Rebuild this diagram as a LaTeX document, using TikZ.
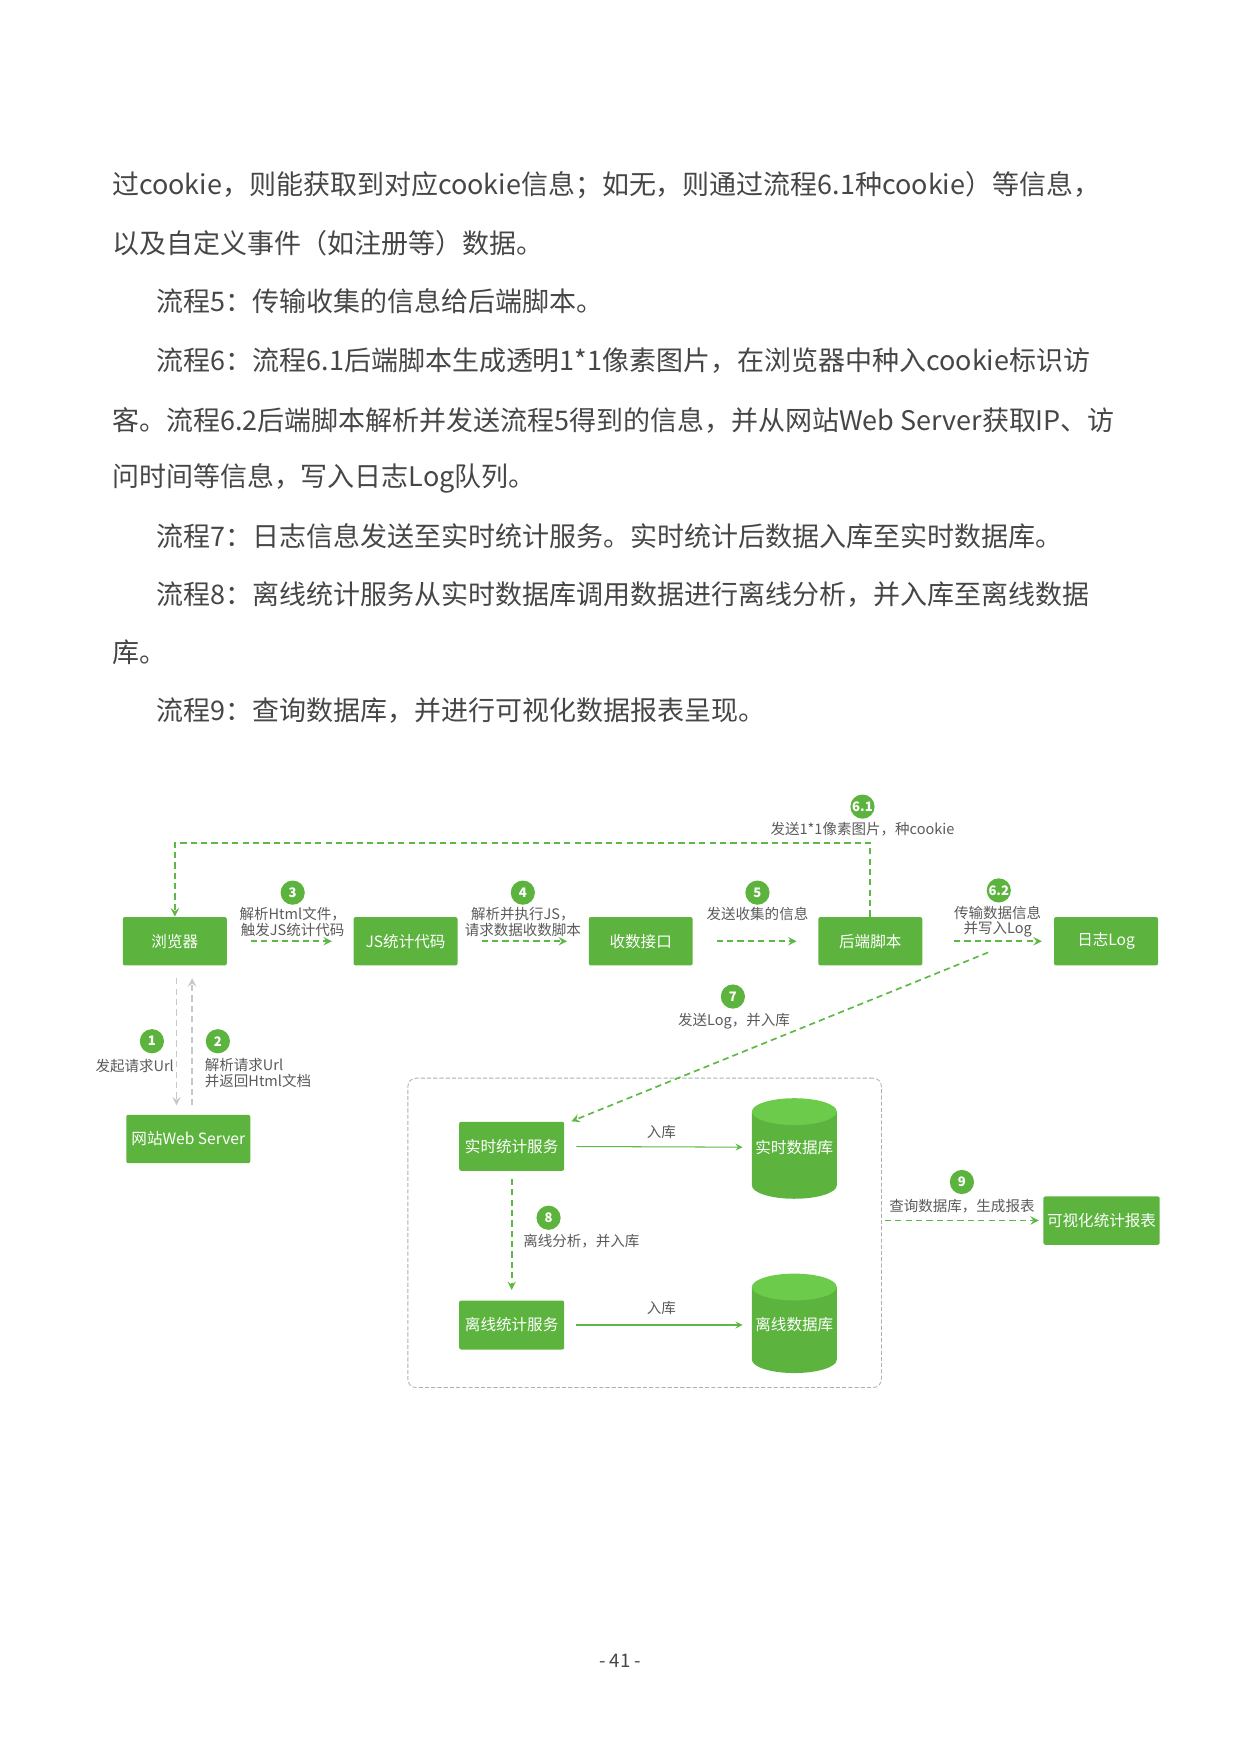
\documentclass[tikz,border=0pt]{standalone}
\usepackage{fontspec}
\setmainfont{Noto Sans CJK SC}
\usetikzlibrary{calc}
\definecolor{boxgreen}{RGB}{92,180,62}
\definecolor{topgreen}{RGB}{108,203,74}
\definecolor{linegreen}{RGB}{93,184,69}
\definecolor{labelgray}{RGB}{90,90,90}
\definecolor{bodygray}{RGB}{70,70,70}
\definecolor{reqgray}{RGB}{200,200,200}
\definecolor{framegray}{RGB}{175,175,175}

\begin{document}
\begin{tikzpicture}[x=0.018919cm, y=-0.018919cm, >=stealth,
  body/.style={anchor=west, inner sep=0, text=bodygray, font=\fontsize{13}{15}\selectfont},
  box/.style={fill=boxgreen, text=white, rounded corners=1pt, minimum width=1.76cm, minimum height=0.82cm, inner sep=0, font=\fontsize{7.5}{8}\selectfont},
  num/.style={circle, fill=boxgreen, text=white, inner sep=0, minimum size=0.41cm, font=\fontsize{6.3}{7}\selectfont\bfseries},
  lbl/.style={text=labelgray, inner sep=0, align=center, font=\fontsize{7}{7.6}\selectfont},
  flow/.style={->, draw=linegreen, dashed, dash pattern=on 3pt off 2pt, line width=0.8pt},
  gap/.style={shorten <=0.4cm, shorten >=0.36cm},
  req/.style={->, draw=reqgray, dashed, dash pattern=on 3pt off 2pt, line width=0.8pt},
  store/.style={->, draw=linegreen, line width=0.5pt}]
\useasboundingbox (0,0) rectangle (1110,1570);

% text above the figure
\node[body] (t1) at (100,166) {过cookie，则能获取到对应cookie信息；如无，则通过流程6.1种cookie）等信息，};
\node[body] (t2) at (100,218) {以及自定义事件（如注册等）数据。};
\node[body] (t3) at (140,270) {流程5：传输收集的信息给后端脚本。};
\node[body] (t4) at (140,323) {流程6：流程6.1后端脚本生成透明1*1像素图片，在浏览器中种入cookie标识访};
\node[body] (t5) at (100,376) {客。流程6.2后端脚本解析并发送流程5得到的信息，并从网站Web Server获取IP、访};
\node[body] (t6) at (100,428) {问时间等信息，写入日志Log队列。};
\node[body] (t7) at (140,480) {流程7：日志信息发送至实时统计服务。实时统计后数据入库至实时数据库。};
\node[body] (t8) at (140,532) {流程8：离线统计服务从实时数据库调用数据进行离线分析，并入库至离线数据};
\node[body] (t9) at (100,584) {库。};
\node[body] (t10) at (140,636) {流程9：查询数据库，并进行可视化数据报表呈现。};

% top row
\node[box] (browser) at (156.5,842.5) {浏览器};
\node[box] (js) at (363,842.5) {JS统计代码};
\node[box] (collect) at (573.5,842.5) {收数接口};
\node[box] (backend) at (779,842.5) {后端脚本};
\node[box] (logq) at (990,842.5) {日志Log};
\node[box, minimum width=2.1cm] (websrv) at (168.5,1019.5) {网站Web Server};

% statistics block
\node[draw=framegray, dashed, dash pattern=on 2pt off 1pt, line width=0.4pt, rounded corners=4pt,
  minimum width=8.02cm, minimum height=5.24cm] (stats) at (577,1103.5) {};
\node[box, minimum width=1.78cm, minimum height=0.83cm] (rts) at (458,1026) {实时统计服务};
\node[box, minimum width=1.78cm, minimum height=0.83cm] (ofs) at (458,1186) {离线统计服务};
\node[box, minimum width=1.97cm] (report) at (986,1092.5) {可视化统计报表};

% databases
\fill[boxgreen] (673,995) -- (673,1061) arc[start angle=180, end angle=0, x radius=38, y radius=12] -- (749,995) -- cycle;
\fill[topgreen] (711,995) ellipse[x radius=38, y radius=12];
\node[inner sep=0, minimum width=1.44cm, text=white, font=\fontsize{7.5}{8}\selectfont] (rtdb) at (711,1027) {实时数据库};
\fill[boxgreen] (673,1152) -- (673,1217) arc[start angle=180, end angle=0, x radius=38, y radius=12] -- (749,1152) -- cycle;
\fill[topgreen] (711,1152) ellipse[x radius=38, y radius=12];
\node[inner sep=0, minimum width=1.44cm, text=white, font=\fontsize{7.5}{8}\selectfont] (ofdb) at (711,1186) {离线数据库};

% step numbers and labels
\node[num] (n61) at (772,722) {6.1};
\node[lbl] (l61) at (772,742) {发送1*1像素图片，种cookie};
\node[num] (n3) at (262,799) {3};
\node[lbl] (l3) at (262,825) {解析Html文件，\\触发JS统计代码};
\node[num] (n4) at (468,799) {4};
\node[lbl] (l4) at (468,825) {解析并执行JS，\\请求数据收数脚本};
\node[num] (n5) at (678,799) {5};
\node[lbl] (l5) at (678,818) {发送收集的信息};
\node[num] (n62) at (894,797) {6.2};
\node[lbl] (l62) at (893,825) {传输数据信息\\并写入Log};
\node[num] (n7) at (656,892) {7};
\node[lbl] (l7) at (657,914) {发送Log，并入库};
\node[num] (n1) at (136,932) {1};
\node[lbl, anchor=east] (l1) at (156,954) {发起请求Url};
\node[num] (n2) at (195,932) {2};
\node[lbl, anchor=north west, align=left] (l2) at (183,947) {解析请求Url\\并返回Html文档};
\node[num] (n8) at (491,1090) {8};
\node[lbl, anchor=west] (l8) at (468,1111) {离线分析，并入库};
\node[num] (n9) at (861,1058) {9};
\node[lbl] (l9) at (861,1080) {查询数据库，生成报表};
\node[lbl] (rk1) at (592,1013) {入库};
\node[lbl] (rk2) at (592,1171) {入库};

% connectors
\draw[flow] (backend.north) -- ++(0,-66) -| (browser.north);
\draw[flow, gap] (browser) -- (js);
\draw[flow, gap] (js) -- (collect);
\draw[flow, gap] (collect) -- (backend);
\draw[flow, shorten <=0.53cm, shorten >=0.2cm] (backend) -- (logq);
\coordinate (m62) at ($(backend.east)!0.5!(logq.west)+(0,10)$);
\draw[flow] (m62) -- ($(rts.north east)+(6,0)$);
\draw[req] ($(browser.south)+(1.5,11)$) -- ($(browser.south |- websrv.north)+(1.5,-8)$);
\draw[req] ($(browser.south |- websrv.north)+(15.5,-8)$) -- ($(browser.south)+(15.5,11)$);
\draw[store, shorten <=0.2cm, shorten >=0.15cm] (rts) -- (rtdb);
\draw[store, shorten <=0.2cm, shorten >=0.15cm] (ofs) -- (ofdb);
\draw[flow, shorten <=0.13cm, shorten >=0.17cm] (rts) -- (ofs);
\draw[flow, shorten <=0.05cm, shorten >=0.07cm] (stats.east |- report) -- (report);

\node[text=bodygray, inner sep=0, font=\fontsize{9}{10}\selectfont] (page) at (555,1487) {-\ 41\ -};
\end{tikzpicture}
\end{document}
